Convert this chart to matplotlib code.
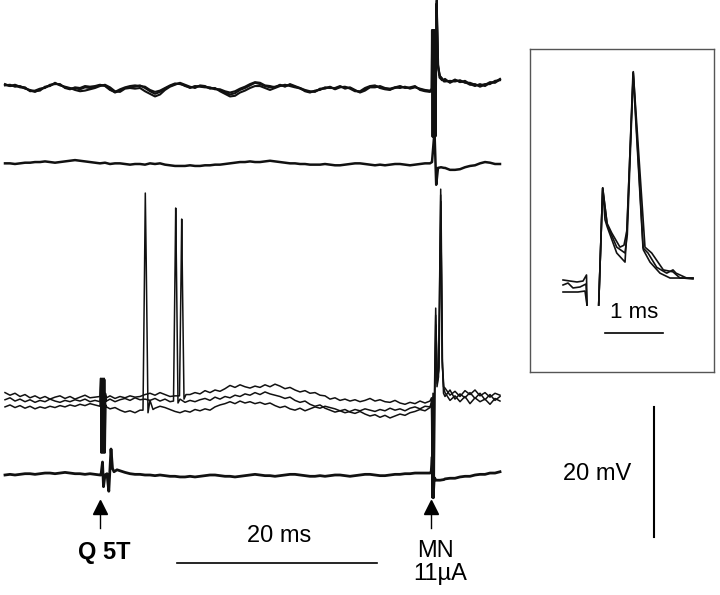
"""
Intracellular / extracellular sweeps with stimulus markers and an inset
of the MN-evoked response. Traces drawn in ms / mV with scale bars instead
of axes.
"""
import matplotlib
matplotlib.use("Agg")
import matplotlib.pyplot as plt
import numpy as np

plt.rcParams["font.family"] = ["Liberation Sans", "DejaVu Sans"]

# ---- data (ms, mV relative to each trace's baseline) -----------------------
DT = 0.5          # sample spacing of the baseline readings
POST_T0 = 44.0    # first reading after the MN response

A1_pre = [0.5, 0.3, 0.4, 0.1, 0.0, -0.4, -0.6, -0.2, 0.1, 0.4,
          0.7, 0.5, 0.1, -0.1, 0.0, -0.2, 0.1, 0.0, 0.2, 0.4,
          0.4, -0.2, -0.7, -0.4, 0.0, 0.1, 0.2, 0.4, 0.0, -0.5,
          -0.9, -0.6, -0.1, 0.3, 0.6, 0.7, 0.3, 0.1, 0.2, 0.3,
          0.2, 0.0, -0.1, -0.3, -0.7, -1.0, -0.8, -0.3, 0.0, 0.4,
          0.8, 0.6, 0.3, 0.1, 0.2, 0.4, 0.3, 0.5, 0.2, -0.1,
          -0.4, -0.6, -0.5, -0.2, 0.0, 0.1, -0.1, 0.2, 0.1, 0.0,
          -0.4, -0.6, -0.2, 0.2, 0.3, 0.1, -0.1, -0.2, 0.0, 0.2,
          0.1, 0.0, 0.2, -0.2, -0.4, -0.5]
A2_pre = [0.4, 0.5, 0.2, 0.3, -0.1, -0.3, -0.5, -0.4, 0.2, 0.3,
          0.8, 0.4, 0.2, 0.0, -0.3, -0.5, -0.4, -0.2, 0.0, 0.3,
          0.5, 0.1, -0.5, -0.6, -0.1, 0.0, -0.1, 0.0, -0.5, -0.9,
          -1.3, -1.0, -0.3, 0.2, 0.5, 0.8, 0.5, 0.2, 0.0, 0.4,
          0.3, -0.1, 0.0, -0.5, -0.9, -1.3, -1.2, -0.7, -0.4, 0.0,
          0.3, 0.3, 0.0, -0.3, 0.0, 0.3, 0.5, 0.3, 0.1, 0.0,
          -0.5, -0.7, -0.4, -0.3, 0.1, 0.0, 0.0, 0.3, -0.1, 0.1,
          -0.3, -0.7, -0.4, 0.1, 0.1, 0.3, 0.0, -0.1, 0.1, 0.0,
          0.2, -0.1, 0.1, -0.1, -0.3, -0.4]
A3_pre = [0.6, 0.3, 0.5, 0.2, 0.1, -0.5, -0.4, -0.1, 0.0, 0.5,
          0.6, 0.6, 0.0, -0.2, 0.1, 0.0, 0.3, 0.2, 0.3, 0.5,
          0.3, -0.3, -0.6, -0.2, 0.1, 0.3, 0.4, 0.3, 0.2, -0.3,
          -0.6, -0.4, 0.0, 0.4, 0.7, 0.6, 0.4, 0.0, 0.3, 0.2,
          0.1, 0.1, -0.2, -0.2, -0.5, -0.7, -0.5, -0.1, 0.2, 0.6,
          0.9, 0.8, 0.4, 0.3, 0.1, 0.5, 0.2, 0.6, 0.3, 0.0,
          -0.3, -0.5, -0.6, -0.1, -0.1, 0.2, -0.2, 0.1, 0.2, -0.1,
          -0.5, -0.5, 0.0, 0.3, 0.4, 0.0, -0.2, -0.3, 0.1, 0.3,
          0.0, 0.1, 0.3, -0.3, -0.5, -0.6]
A1_post = [1.2, 0.9, 1.3, 0.9, 1.1, 0.6, 0.3, 0.6, 0.3, 0.8, 0.9, 1.4]
A2_post = [1.0, 1.1, 1.0, 1.2, 0.8, 0.8, 0.5, 0.4, 0.6, 0.6, 1.1, 1.2]
A3_post = [1.4, 0.8, 1.2, 1.0, 0.9, 0.5, 0.6, 0.2, 0.5, 0.9, 0.8, 1.3]
A1_mn_t = [42.5, 42.68, 42.72, 42.78, 42.84, 42.9, 42.96, 43.02, 43.17, 43.3, 43.45, 43.7, 43.9]
A1_mn_v = [-0.5, -0.2, 8.9, -7.5, 8.9, -7.5, 8.9, -7.5, 13.5, 3.5, 2.0, 1.3, 1.1]
A2_mn_t = [42.5, 42.7, 42.75, 42.81, 42.87, 42.93, 42.99, 43.05, 43.17, 43.32, 43.5, 43.7, 43.9]
A2_mn_v = [-0.4, -0.1, 8.8, -7.4, 8.8, -7.4, 8.8, -7.4, 12.5, 3.2, 1.8, 1.5, 1.0]
A3_mn_t = [42.5, 42.66, 42.7, 42.76, 42.82, 42.88, 42.94, 43.0, 43.15, 43.28, 43.45, 43.7, 43.9]
A3_mn_v = [-0.6, -0.3, 8.9, -7.5, 8.9, -7.5, 8.9, -7.5, 13.0, 3.8, 1.6, 1.2, 1.3]

B_pre = [0.1, 0.1, 0.0, 0.1, 0.2, 0.2, 0.3, 0.3, 0.4, 0.3,
         0.2, 0.3, 0.4, 0.5, 0.6, 0.5, 0.4, 0.3, 0.2, 0.1,
         0.2, 0.0, 0.1, 0.1, 0.0, -0.1, 0.0, 0.0, -0.1, 0.1,
         0.0, 0.1, -0.1, -0.2, -0.3, -0.3, -0.3, -0.2, -0.3, -0.3,
         -0.2, -0.2, -0.1, -0.1, 0.0, 0.1, 0.2, 0.3, 0.3, 0.4,
         0.3, 0.3, 0.4, 0.5, 0.4, 0.3, 0.2, 0.1, 0.1, 0.0,
         0.0, -0.1, -0.1, -0.1, 0.0, -0.1, -0.2, -0.2, -0.1, 0.0,
         0.1, 0.1, 0.0, -0.1, -0.2, -0.1, -0.2, -0.1, 0.0, 0.0,
         -0.1, -0.2, -0.1, 0.0, 0.1, 0.2]
B_post = [-0.6, -0.9, -0.9, -0.8, -0.5, -0.3, -0.2, 0.1, 0.3, 0.2, 0.0, 0.0]
B_mn_t = [42.5, 42.7, 42.95, 43.12, 43.3, 43.6, 43.9]
B_mn_v = [0.1, 0.3, 5.0, -3.2, -0.6, -0.5, -0.6]

C1_pre = [1.6, 1.2, 1.5, 1.0, 1.3, 0.8, 1.1, 0.7, 1.0, 0.6,
          0.9, 1.1, 0.7, 1.0, 0.6, 0.9, 1.2, 0.8, 0.9, 0.6,
          0.8, 1.1, 0.7, 1.0, 0.8, 1.1, 0.9, 1.0, 1.3, 1.5,
          1.2, 1.6, 1.3, 1.0, 1.1, 1.2, 0.9, 1.3, 1.6, 1.4,
          1.9, 1.6, 2.0, 1.8, 2.2, 2.7, 2.4, 2.8, 2.5, 2.3,
          2.6, 2.4, 2.8, 2.5, 2.9, 2.6, 2.2, 2.4, 2.0, 1.7,
          1.9, 1.5, 1.6, 1.2, 1.1, 0.6, 0.8, 0.4, 0.6, 0.3,
          0.5, 0.2, 0.4, 0.7, 0.3, 0.5, 0.2, 0.1, 0.4, 0.0,
          -0.2, 0.1, -0.1, 0.3, 0.0, 0.1]
C2_pre = [0.5, 0.8, 0.3, 0.6, 0.2, 0.5, 0.1, 0.4, 0.2, 0.6,
          0.3, 0.1, 0.4, 0.2, 0.5, 0.3, 0.6, 0.2, 0.4, 0.1,
          0.3, 0.6, 0.2, 0.5, 0.7, 0.4, 0.8, 0.5, 0.6, 0.4,
          0.7, 0.3, 0.6, 0.2, 0.5, 0.3, 0.1, 0.4, 0.2, 0.5,
          0.7, 0.4, 0.9, 0.6, 1.0, 0.8, 1.2, 1.0, 1.4, 1.2,
          1.6, 1.3, 1.7, 1.4, 1.2, 1.0, 0.7, 0.9, 0.4, 0.1,
          0.3, -0.2, -0.5, -0.3, -0.8, -1.1, -1.4, -1.2, -1.5, -1.3,
          -1.0, -1.2, -0.9, -1.1, -1.3, -1.0, -1.2, -0.8, -1.1, -0.9,
          -1.2, -0.8, -0.6, -0.9, -0.5, -0.7]
C3_pre = [-0.6, -0.3, -0.7, -0.4, -0.8, -0.5, -0.9, -0.6, -0.8, -0.5,
          -0.7, -0.4, -0.6, -0.3, -0.5, -0.2, -0.4, -0.1, -0.3, -0.5,
          -0.6, -0.9, -0.7, -1.1, -1.4, -1.2, -1.5, -1.1, -0.9, -0.6,
          -0.8, -0.5, -0.7, -1.0, -1.3, -1.5, -1.2, -1.4, -1.0, -1.2,
          -0.9, -1.1, -0.6, -0.3, -0.1, 0.2, -0.1, 0.3, 0.0, 0.2,
          -0.1, 0.1, -0.2, 0.0, -0.4, -0.7, -0.5, -0.9, -1.1, -0.8,
          -1.2, -0.9, -0.6, -0.8, -0.5, -0.7, -0.9, -1.2, -1.0, -1.4,
          -1.6, -1.3, -1.7, -2.0, -1.8, -2.2, -1.9, -2.3, -2.0, -1.7,
          -1.9, -1.5, -1.3, -1.0, -1.2, -1.0]
C1_post = [2.3, 1.2, 1.8, 1.0, 1.9, 1.3, 2.0, 1.1, 1.6, 0.9, 1.5, 1.2]
C2_post = [1.0, 2.0, 0.6, 1.4, 0.8, 1.6, 0.7, 1.5, 0.5, 1.3, 0.4, 1.0]
C3_post = [1.6, 0.4, 1.1, 0.2, 1.0, -0.1, 0.8, 0.2, 0.6, -0.2, 0.7, 0.3]
# Q 5T stimulus artifact (clipped)
C1_q_t = [9.5, 9.56, 9.62, 9.68, 9.74, 9.80, 9.86, 9.92, 9.98, 10.04, 10.15]
C1_q_v = [1.0, 3.8, -7.7, 3.8, -7.7, 3.8, -7.7, 3.8, -7.7, 1.5, 0.8]
C2_q_t = [9.5, 9.58, 9.64, 9.70, 9.76, 9.82, 9.88, 9.94, 10.0, 10.06, 10.15]
C2_q_v = [0.2, 3.7, -7.6, 3.7, -7.6, 3.7, -7.6, 3.7, -7.6, 0.8, 0.3]
C3_q_t = [9.5, 9.60, 9.66, 9.72, 9.78, 9.84, 9.90, 9.96, 10.02, 10.08, 10.15]
C3_q_v = [-0.5, 3.6, -7.5, 3.6, -7.5, 3.6, -7.5, 3.6, -7.5, -0.3, -0.6]
# spikes evoked by Q 5T
C1_sp_t = [17.45, 17.6, 17.67, 17.75, 17.9, 18.1]
C1_sp_v = [1.1, 19.0, 28.3, 18.0, 0.6, 1.3]
C2_sp_t = [16.85, 17.0, 17.07, 17.15, 17.3, 17.5]
C2_sp_v = [0.3, 20.0, 30.0, 20.0, 0.0, 0.6]
C3_sp_t = [13.8, 13.95, 14.03, 14.12, 14.3, 14.5, 14.8]
C3_sp_v = [-1.1, 20.0, 32.3, 22.0, -1.5, 0.4, -1.0]
# MN stimulus artifact and antidromic response
C1_mn_t = [42.5, 42.65, 42.72, 42.8, 42.88, 42.95, 43.07, 43.2, 43.35, 43.57, 43.72, 43.85]
C1_mn_v = [0.3, 0.8, -14.6, 1.5, -14.6, 2.0, 14.6, 2.5, 4.0, 32.9, 6.5, 2.5]
C2_mn_t = [42.5, 42.66, 42.74, 42.82, 42.9, 42.97, 43.07, 43.22, 43.37, 43.57, 43.72, 43.85]
C2_mn_v = [-0.6, 0.2, -14.4, 1.0, -14.4, 1.5, 13.5, 3.0, 5.0, 32.0, 7.0, 1.5]
C3_mn_t = [42.5, 42.67, 42.76, 42.84, 42.92, 42.98, 43.1, 43.24, 43.4, 43.6, 43.75, 43.9]
C3_mn_v = [-0.7, 0.0, -14.2, 0.5, -14.2, 1.0, 12.0, 3.5, 5.5, 31.0, 5.5, 2.2]

D_pre = [0.0, 0.1, 0.0, 0.1, 0.2, 0.2, 0.1, 0.2, 0.3, 0.3,
         0.2, 0.3, 0.4, 0.3, 0.2, 0.2, 0.1, 0.2, 0.1, 0.0,
         0.1, 0.2, 0.3, 0.3, 0.2, 0.2, 0.1, 0.1, 0.0, 0.0,
         -0.1, 0.0, -0.1, -0.2, -0.2, -0.3, -0.3, -0.2, -0.3, -0.2,
         -0.1, 0.0, 0.0, -0.1, -0.2, -0.2, -0.3, -0.2, -0.1, 0.0,
         0.1, 0.0, -0.1, -0.1, -0.2, -0.1, 0.0, 0.1, 0.1, 0.0,
         -0.1, -0.2, -0.2, -0.1, -0.2, -0.1, 0.0, 0.0, -0.1, -0.2,
         -0.1, 0.0, 0.1, 0.1, 0.0, -0.1, -0.1, 0.0, 0.1, 0.1,
         0.2, 0.2, 0.3, 0.3, 0.3, 0.4]
D_post = [-0.6, -0.5, -0.5, -0.3, -0.2, -0.2, 0.0, 0.1, 0.1, 0.3, 0.3, 0.5]
D_q_t = [9.6, 9.75, 9.85, 10.0, 10.2, 10.38, 10.6, 10.75, 10.9, 11.2, 11.6, 12.0]
D_q_v = [0.0, 2.0, -1.8, 0.0, 0.2, -2.5, 4.0, 1.0, 0.5, 0.8, 0.6, 0.4]
D_mn_t = [42.5, 42.62, 42.72, 42.82, 42.92, 43.1, 43.5, 43.9]
D_mn_v = [0.3, 0.5, 2.8, -3.5, -0.4, -0.8, -0.8, -0.7]

# inset: expanded MN response, 3 sweeps (ms from MN stimulus, mV)
IN1_pre_t = [-0.379, -0.259, -0.138, -0.034, 0.026, 0.034]
IN1_pre_v = [-0.15, -0.31, -0.46, -0.31, 0.62, -4.0]
IN2_pre_t = [-0.379, -0.293, -0.207, -0.086, 0.017, 0.034]
IN2_pre_v = [-0.92, -0.62, -1.38, -1.23, -0.77, -4.0]
IN3_pre_t = [-0.379, -0.259, -0.121, 0.0, 0.034]
IN3_pre_v = [-2.0, -2.0, -2.0, -1.85, -4.0]
IN1_t = [0.236, 0.305, 0.345, 0.384, 0.547, 0.690, 0.719, 0.833, 1.005, 1.121, 1.293, 1.466, 1.690, 1.862]
IN1_v = [-4.0, 14.0, 9.1, 8.0, 4.0, 2.6, 7.1, 31.9, 4.5, 2.6, 0.9, 0.15, 0.15, 0.0]
IN2_t = [0.236, 0.305, 0.384, 0.547, 0.690, 0.729, 0.833, 1.034, 1.150, 1.350, 1.517, 1.638, 1.862]
IN2_v = [-4.0, 14.0, 8.3, 4.9, 4.0, 6.8, 31.7, 4.9, 4.0, 1.4, 1.1, 0.15, 0.15]
IN3_t = [0.236, 0.305, 0.379, 0.460, 0.603, 0.672, 0.724, 0.828, 1.0, 1.086, 1.236, 1.409, 1.517, 1.569, 1.753, 1.862]
IN3_v = [-4.0, 14.0, 8.6, 7.1, 4.9, 5.2, 7.5, 31.8, 4.8, 4.0, 1.8, 0.9, 1.4, 0.9, 0.15, 0.15]

STIM_T = [9.5, 42.6]
STIM_LABELS = ["Q 5T", "MN\n11µA"]
SCALE_MS = 20
SCALE_MV = 20
INSET_SCALE_MS = 1


def build(pre, post, *events):
    t = np.concatenate([np.arange(len(pre)) * DT, POST_T0 + np.arange(len(post)) * DT])
    v = np.concatenate([pre, post]).astype(float)
    keep = np.ones(len(t), bool)
    for et, _ in events:
        keep &= ~((t >= min(et)) & (t <= max(et)))
    t, v = t[keep], v[keep]
    for et, ev in events:
        t = np.concatenate([t, et])
        v = np.concatenate([v, ev])
    order = np.argsort(t, kind="stable")
    return t[order], v[order]


# ---- layout (figure is 720 x 595 px; 10 px per ms, 6.5 px per mV) ---------
W, H = 720, 595
fig = plt.figure(figsize=(W / 100, H / 100), dpi=100)
ax = fig.add_axes([0, 0, 1, 1])
ax.set_xlim(-0.5, (W - 5) / 10)
ax.set_ylim(0, H / 6.5)
ax.axis("off")

def yd(py):
    return (H - py) / 6.5

OFF_A, OFF_B, OFF_C, OFF_D = yd(88), yd(164), yd(403), yd(475)

sweeps = [
    (build(A1_pre, A1_post, (A1_mn_t, A1_mn_v)), OFF_A, 1.5),
    (build(A2_pre, A2_post, (A2_mn_t, A2_mn_v)), OFF_A, 1.5),
    (build(A3_pre, A3_post, (A3_mn_t, A3_mn_v)), OFF_A, 1.5),
    (build(B_pre, B_post, (B_mn_t, B_mn_v)), OFF_B, 1.8),
    (build(C1_pre, C1_post, (C1_q_t, C1_q_v), (C1_sp_t, C1_sp_v), (C1_mn_t, C1_mn_v)), OFF_C, 1.1),
    (build(C2_pre, C2_post, (C2_q_t, C2_q_v), (C2_sp_t, C2_sp_v), (C2_mn_t, C2_mn_v)), OFF_C, 1.1),
    (build(C3_pre, C3_post, (C3_q_t, C3_q_v), (C3_sp_t, C3_sp_v), (C3_mn_t, C3_mn_v)), OFF_C, 1.1),
    (build(D_pre, D_post, (D_q_t, D_q_v), (D_mn_t, D_mn_v)), OFF_D, 2.0),
]
for (t, v), off, lw in sweeps:
    ax.plot(t, v + off, color="#111111", lw=lw)

# stimulus arrows
for st in STIM_T:
    ax.plot([st, st], [yd(528), yd(510)], color="black", lw=1.0)
    ax.plot(st, yd(506.5), marker="^", ms=9.5, color="black", mec="black")

fs = 17
fig.text(104 / W, 1 - 553 / H, STIM_LABELS[0], ha="center", va="center",
         fontsize=fs, fontweight="bold")
fig.text(435 / W, 1 - 551 / H, "MN", ha="center", va="center", fontsize=fs)
fig.text(440 / W, 1 - 574 / H, "11µA", ha="center", va="center", fontsize=fs)

# scale bars
x0 = (177 - 5) / 10
ax.plot([x0, x0 + SCALE_MS], [yd(563)] * 2, color="black", lw=1.2)
fig.text(279 / W, 1 - 536 / H, f"{SCALE_MS} ms", ha="center", va="center", fontsize=fs)
xb = (654 - 5) / 10
ax.plot([xb, xb], [yd(537), yd(537) + SCALE_MV], color="black", lw=1.5)
fig.text(597 / W, 1 - 474 / H, f"{SCALE_MV} mV", ha="center", va="center", fontsize=fs)

# ---- inset (58 px per ms, same 6.5 px per mV) ------------------------------
L, R, T, B = 530, 714, 49, 372
axi = fig.add_axes([L / W, 1 - B / H, (R - L) / W, (B - T) / H])
axi.set_xlim((L - 585) / 58, (R - 585) / 58)
axi.set_ylim((279 - B) / 6.5, (279 - T) / 6.5)
axi.set_xticks([])
axi.set_yticks([])
for s in axi.spines.values():
    s.set_color("#555555")
    s.set_linewidth(1.0)
for pt, pv, t, v in [(IN1_pre_t, IN1_pre_v, IN1_t, IN1_v),
                     (IN2_pre_t, IN2_pre_v, IN2_t, IN2_v),
                     (IN3_pre_t, IN3_pre_v, IN3_t, IN3_v)]:
    axi.plot(pt, pv, color="#111111", lw=1.2)
    axi.plot(t, v, color="#111111", lw=1.2)

xi = (605 - 585) / 58
yi = (279 - 333) / 6.5
axi.plot([xi, xi + INSET_SCALE_MS], [yi, yi], color="black", lw=1.2)
axi.text(xi + INSET_SCALE_MS / 2, (279 - 313) / 6.5, f"{INSET_SCALE_MS} ms",
         ha="center", va="center", fontsize=16)

fig.savefig("out.png", dpi=100)
